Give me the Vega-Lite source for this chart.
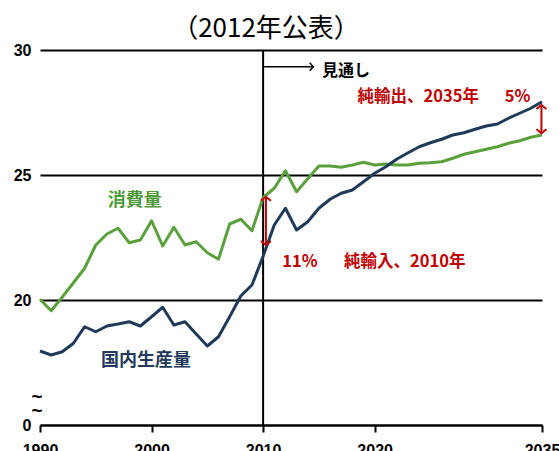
{
  "$schema": "https://vega.github.io/schema/vega-lite/v6.json",
  "autosize": {"type": "none"},
  "width": 502,
  "height": 375,
  "padding": {"left": 40, "top": 50, "right": 17, "bottom": 26},
  "background": "white",
  "title": {
    "text": "（2012年公表）",
    "font": "Noto Sans CJK JP",
    "fontSize": 26,
    "fontWeight": "normal",
    "color": "black",
    "anchor": "middle",
    "frame": "group",
    "dx": -25,
    "offset": 0
  },
  "config": {
    "view": {"stroke": null},
    "axis": {"labelFont": "Liberation Sans", "labelFontWeight": "bold", "labelFontSize": 16, "labelColor": "black", "title": null}
  },
  "datasets": {
    "series": [
      {"year": 1990, "value": 20.03, "series": "消費量"},
      {"year": 1991, "value": 19.57, "series": "消費量"},
      {"year": 1992, "value": 20.12, "series": "消費量"},
      {"year": 1993, "value": 20.69, "series": "消費量"},
      {"year": 1994, "value": 21.27, "series": "消費量"},
      {"year": 1995, "value": 22.2, "series": "消費量"},
      {"year": 1996, "value": 22.64, "series": "消費量"},
      {"year": 1997, "value": 22.87, "series": "消費量"},
      {"year": 1998, "value": 22.29, "series": "消費量"},
      {"year": 1999, "value": 22.4, "series": "消費量"},
      {"year": 2000, "value": 23.17, "series": "消費量"},
      {"year": 2001, "value": 22.16, "series": "消費量"},
      {"year": 2002, "value": 22.91, "series": "消費量"},
      {"year": 2003, "value": 22.2, "series": "消費量"},
      {"year": 2004, "value": 22.33, "series": "消費量"},
      {"year": 2005, "value": 21.89, "series": "消費量"},
      {"year": 2006, "value": 21.63, "series": "消費量"},
      {"year": 2007, "value": 23.04, "series": "消費量"},
      {"year": 2008, "value": 23.23, "series": "消費量"},
      {"year": 2009, "value": 22.77, "series": "消費量"},
      {"year": 2010, "value": 24.1, "series": "消費量"},
      {"year": 2011, "value": 24.47, "series": "消費量"},
      {"year": 2012, "value": 25.17, "series": "消費量"},
      {"year": 2013, "value": 24.33, "series": "消費量"},
      {"year": 2014, "value": 24.85, "series": "消費量"},
      {"year": 2015, "value": 25.36, "series": "消費量"},
      {"year": 2016, "value": 25.36, "series": "消費量"},
      {"year": 2017, "value": 25.31, "series": "消費量"},
      {"year": 2018, "value": 25.4, "series": "消費量"},
      {"year": 2019, "value": 25.51, "series": "消費量"},
      {"year": 2020, "value": 25.4, "series": "消費量"},
      {"year": 2021, "value": 25.44, "series": "消費量"},
      {"year": 2022, "value": 25.4, "series": "消費量"},
      {"year": 2023, "value": 25.4, "series": "消費量"},
      {"year": 2024, "value": 25.47, "series": "消費量"},
      {"year": 2025, "value": 25.49, "series": "消費量"},
      {"year": 2026, "value": 25.53, "series": "消費量"},
      {"year": 2027, "value": 25.67, "series": "消費量"},
      {"year": 2028, "value": 25.83, "series": "消費量"},
      {"year": 2029, "value": 25.93, "series": "消費量"},
      {"year": 2030, "value": 26.03, "series": "消費量"},
      {"year": 2031, "value": 26.13, "series": "消費量"},
      {"year": 2032, "value": 26.27, "series": "消費量"},
      {"year": 2033, "value": 26.37, "series": "消費量"},
      {"year": 2034, "value": 26.51, "series": "消費量"},
      {"year": 2035, "value": 26.6, "series": "消費量"},
      {"year": 1990, "value": 17.96, "series": "国内生産量"},
      {"year": 1991, "value": 17.8, "series": "国内生産量"},
      {"year": 1992, "value": 17.93, "series": "国内生産量"},
      {"year": 1993, "value": 18.27, "series": "国内生産量"},
      {"year": 1994, "value": 18.93, "series": "国内生産量"},
      {"year": 1995, "value": 18.73, "series": "国内生産量"},
      {"year": 1996, "value": 18.96, "series": "国内生産量"},
      {"year": 1997, "value": 19.04, "series": "国内生産量"},
      {"year": 1998, "value": 19.13, "series": "国内生産量"},
      {"year": 1999, "value": 18.96, "series": "国内生産量"},
      {"year": 2000, "value": 19.33, "series": "国内生産量"},
      {"year": 2001, "value": 19.71, "series": "国内生産量"},
      {"year": 2002, "value": 19.0, "series": "国内生産量"},
      {"year": 2003, "value": 19.13, "series": "国内生産量"},
      {"year": 2004, "value": 18.64, "series": "国内生産量"},
      {"year": 2005, "value": 18.16, "series": "国内生産量"},
      {"year": 2006, "value": 18.53, "series": "国内生産量"},
      {"year": 2007, "value": 19.33, "series": "国内生産量"},
      {"year": 2008, "value": 20.16, "series": "国内生産量"},
      {"year": 2009, "value": 20.6, "series": "国内生産量"},
      {"year": 2010, "value": 21.75, "series": "国内生産量"},
      {"year": 2011, "value": 23.0, "series": "国内生産量"},
      {"year": 2012, "value": 23.67, "series": "国内生産量"},
      {"year": 2013, "value": 22.8, "series": "国内生産量"},
      {"year": 2014, "value": 23.13, "series": "国内生産量"},
      {"year": 2015, "value": 23.67, "series": "国内生産量"},
      {"year": 2016, "value": 24.03, "series": "国内生産量"},
      {"year": 2017, "value": 24.27, "series": "国内生産量"},
      {"year": 2018, "value": 24.4, "series": "国内生産量"},
      {"year": 2019, "value": 24.73, "series": "国内生産量"},
      {"year": 2020, "value": 25.07, "series": "国内生産量"},
      {"year": 2021, "value": 25.33, "series": "国内生産量"},
      {"year": 2022, "value": 25.64, "series": "国内生産量"},
      {"year": 2023, "value": 25.89, "series": "国内生産量"},
      {"year": 2024, "value": 26.13, "series": "国内生産量"},
      {"year": 2025, "value": 26.29, "series": "国内生産量"},
      {"year": 2026, "value": 26.43, "series": "国内生産量"},
      {"year": 2027, "value": 26.6, "series": "国内生産量"},
      {"year": 2028, "value": 26.69, "series": "国内生産量"},
      {"year": 2029, "value": 26.83, "series": "国内生産量"},
      {"year": 2030, "value": 26.96, "series": "国内生産量"},
      {"year": 2031, "value": 27.04, "series": "国内生産量"},
      {"year": 2032, "value": 27.27, "series": "国内生産量"},
      {"year": 2033, "value": 27.47, "series": "国内生産量"},
      {"year": 2034, "value": 27.67, "series": "国内生産量"},
      {"year": 2035, "value": 27.93, "series": "国内生産量"}
    ],
    "gaps": [
      {"year": 2010.25, "lo": 22.2, "hi": 24.13},
      {"year": 2034.95, "lo": 26.67, "hi": 27.8}
    ],
    "heads": [
      {"year": 2010.25, "value": 24.13, "dir": "up"},
      {"year": 2010.25, "value": 22.2, "dir": "down"},
      {"year": 2034.95, "value": 27.8, "dir": "up"},
      {"year": 2034.95, "value": 26.67, "dir": "down"}
    ],
    "redLabels": [
      {"year": 2013.3, "value": 21.52, "label": "11%"},
      {"year": 2022.7, "value": 21.52, "label": "純輸入、2010年"},
      {"year": 2023.9, "value": 28.12, "label": "純輸出、2035年"},
      {"year": 2032.8, "value": 28.12, "label": "5%"}
    ],
    "seriesLabels": [
      {"year": 1998.5, "value": 23.96, "series": "消費量"},
      {"year": 1999.5, "value": 17.56, "series": "国内生産量"}
    ],
    "breakMarks": [
      {"year": 1989.73, "value": 16.12, "label": "~"},
      {"year": 1989.73, "value": 15.56, "label": "~"}
    ]
  },
  "layer": [
    {
      "data": {"values": [{"year": 2010}]},
      "mark": {"type": "rule", "color": "black", "strokeWidth": 2},
      "encoding": {"x": {"field": "year", "type": "quantitative"}}
    },
    {
      "data": {"name": "series"},
      "mark": {"type": "line", "strokeWidth": 3, "strokeJoin": "round"},
      "encoding": {
        "x": {
          "field": "year", "type": "quantitative",
          "scale": {"domain": [1990, 2035], "nice": false, "zero": false},
          "axis": {
            "values": [1990, 2000, 2010, 2020, 2035], "format": "d", "grid": false,
            "domainColor": "black", "domainWidth": 2, "tickColor": "black", "tickWidth": 2, "tickSize": 7,
            "labelPadding": 10, "labelFlush": false
          }
        },
        "y": {
          "field": "value", "type": "quantitative",
          "scale": {"domain": [15, 30], "nice": false, "zero": false},
          "axis": {
            "values": [15, 20, 25, 30], "labelExpr": "datum.value == 15 ? '0' : datum.label",
            "domain": false, "ticks": false, "labelPadding": 9,
            "grid": true, "gridColor": "black", "gridWidth": 2
          }
        },
        "color": {"field": "series", "type": "nominal", "scale": {"domain": ["消費量", "国内生産量"], "range": ["#5aa03c", "#1f3a58"]}, "legend": null}
      }
    },
    {
      "data": {"name": "gaps"},
      "mark": {"type": "rule", "color": "#c00000", "strokeWidth": 2},
      "encoding": {
        "x": {"field": "year", "type": "quantitative"},
        "y": {"field": "lo", "type": "quantitative"},
        "y2": {"field": "hi"}
      }
    },
    {
      "data": {"name": "heads"},
      "mark": {"type": "point", "filled": false, "strokeWidth": 2, "color": "#c00000", "size": 100, "opacity": 1},
      "encoding": {
        "x": {"field": "year", "type": "quantitative"},
        "y": {"field": "value", "type": "quantitative"},
        "shape": {"field": "dir", "type": "nominal", "scale": {"domain": ["up", "down"], "range": ["M-1,0.8L0,0L1,0.8", "M-1,-0.8L0,0L1,-0.8"]}, "legend": null}
      }
    },
    {
      "data": {"values": [{"from": 2010, "to": 2014.5, "value": 29.33}]},
      "mark": {"type": "rule", "color": "black", "strokeWidth": 1.5},
      "encoding": {
        "x": {"field": "from", "type": "quantitative"},
        "x2": {"field": "to"},
        "y": {"field": "value", "type": "quantitative"}
      }
    },
    {
      "data": {"values": [{"year": 2014.5, "value": 29.33}]},
      "mark": {"type": "point", "filled": false, "strokeWidth": 1.5, "color": "black", "size": 64, "opacity": 1, "shape": "M-0.9,-1L0,0L-0.9,1"},
      "encoding": {
        "x": {"field": "year", "type": "quantitative"},
        "y": {"field": "value", "type": "quantitative"}
      }
    },
    {
      "data": {"values": [{"year": 2015.27, "value": 29.17, "label": "見通し"}]},
      "mark": {"type": "text", "font": "Noto Sans CJK JP", "fontWeight": "bold", "fontSize": 16, "color": "black", "align": "left", "baseline": "middle"},
      "encoding": {
        "x": {"field": "year", "type": "quantitative"},
        "y": {"field": "value", "type": "quantitative"},
        "text": {"field": "label"}
      }
    },
    {
      "data": {"name": "redLabels"},
      "mark": {"type": "text", "font": "Noto Sans CJK JP", "fontWeight": "bold", "fontSize": 16.5, "color": "#c00000", "align": "center", "baseline": "middle"},
      "encoding": {
        "x": {"field": "year", "type": "quantitative"},
        "y": {"field": "value", "type": "quantitative"},
        "text": {"field": "label"}
      }
    },
    {
      "data": {"name": "seriesLabels"},
      "mark": {"type": "text", "font": "Noto Sans CJK JP", "fontWeight": "bold", "fontSize": 18, "align": "center", "baseline": "middle"},
      "encoding": {
        "x": {"field": "year", "type": "quantitative"},
        "y": {"field": "value", "type": "quantitative"},
        "text": {"field": "series"},
        "color": {"field": "series", "type": "nominal", "scale": {"domain": ["消費量", "国内生産量"], "range": ["#4f9a38", "#22395a"]}, "legend": null}
      }
    },
    {
      "data": {"name": "breakMarks"},
      "mark": {"type": "text", "font": "Liberation Sans", "fontWeight": "bold", "fontSize": 19, "color": "black", "align": "center", "baseline": "middle"},
      "encoding": {
        "x": {"field": "year", "type": "quantitative"},
        "y": {"field": "value", "type": "quantitative"},
        "text": {"field": "label"}
      }
    }
  ],
  "resolve": {"scale": {"color": "independent"}}
}
